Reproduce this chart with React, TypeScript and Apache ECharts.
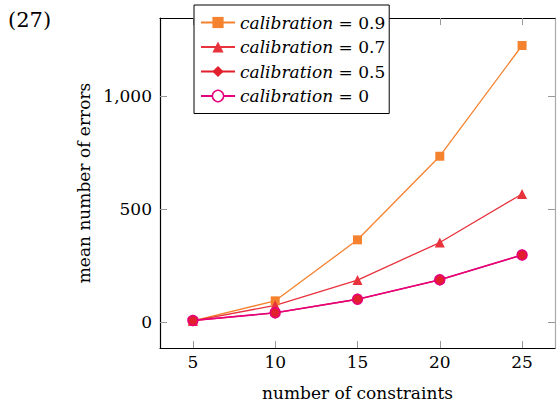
import React, { useEffect, useRef } from "react";
import * as echarts from "echarts";

const constraints = [5, 10, 15, 20, 25];
const calib09 = [6, 95, 365, 735, 1225];
const calib07 = [6, 75, 187, 353, 568];
const calib05 = [8, 42, 102, 188, 298];
const calib0 = [8, 42, 102, 188, 298];
const xTicks = [5, 10, 15, 20, 25];
const yTicks = [0, 500, 1000];
const labels = ["0.9", "0.7", "0.5", "0"];

const FONT = "DejaVu Serif";
const FS = 17;
const ORANGE = "#F5822F";
const RED = "#E8323C";
const RED2 = "#E21F2D";
const MAGENTA = "#E6007E";

const X_MIN = 3;
const X_MAX = 27;
const Y_MIN = -113.7;
const Y_MAX = 1346.7;

export default function App() {
  const ref = useRef<HTMLDivElement>(null);
  useEffect(() => {
    if (!ref.current) return;
    const chart = echarts.init(ref.current, null, { renderer: "svg" });
    const pts = (ys: number[]) => constraints.map((x, i) => [x, ys[i]]);
    const tickStyle = { show: true, inside: true, length: 7, lineStyle: { color: "#999", width: 1 } };
    const option: any = {
      animation: false,
      textStyle: { fontFamily: FONT },
      grid: { left: 160, top: 18, width: 395, height: 330, containLabel: false },
      legend: {
        orient: "vertical",
        left: 194,
        top: 5,
        padding: [9, 4, 9, 6],
        itemGap: 7.5,
        itemWidth: 34,
        itemHeight: 14,
        backgroundColor: "#fff",
        borderColor: "#000",
        borderWidth: 1,
        borderRadius: 0,
        z: 10,
        data: [
          { name: labels[0] },
          { name: labels[1] },
          { name: labels[2] },
          { name: labels[3], itemStyle: { color: "#fff", borderColor: MAGENTA, borderWidth: 1.5 } },
        ],
        formatter: (name: string) => `{i|calibration}{n| = ${name}}`,
        textStyle: {
          fontFamily: FONT,
          fontSize: FS,
          color: "#000",
          rich: {
            i: { fontFamily: FONT, fontSize: FS, fontStyle: "italic", color: "#000" },
            n: { fontFamily: FONT, fontSize: FS, color: "#000" },
          },
        },
      },
      xAxis: [
        {
          type: "value",
          position: "bottom",
          min: X_MIN,
          max: X_MAX,
          axisLine: { show: true, onZero: false, lineStyle: { color: "#000", width: 1.2 } },
          axisTick: { ...tickStyle, customValues: xTicks },
          axisLabel: { customValues: xTicks, fontFamily: FONT, fontSize: FS, color: "#000", margin: 5 },
          splitLine: { show: false },
          name: "number of constraints",
          nameLocation: "middle",
          nameGap: 36,
          nameTextStyle: { fontFamily: FONT, fontSize: FS, color: "#000" },
        },
        {
          type: "value",
          position: "top",
          min: X_MIN,
          max: X_MAX,
          axisLine: { show: true, onZero: false, lineStyle: { color: "#000", width: 1.2 } },
          axisTick: { ...tickStyle, customValues: xTicks },
          axisLabel: { show: false },
          splitLine: { show: false },
        },
      ],
      yAxis: [
        {
          type: "value",
          position: "left",
          min: Y_MIN,
          max: Y_MAX,
          axisLine: { show: true, onZero: false, lineStyle: { color: "#000", width: 1.2 } },
          axisTick: { ...tickStyle, customValues: yTicks },
          axisLabel: {
            customValues: yTicks,
            fontFamily: FONT,
            fontSize: FS,
            color: "#000",
            margin: 8,
            formatter: (v: number) => v.toLocaleString("en-US"),
          },
          splitLine: { show: false },
          name: "mean number of errors",
          nameLocation: "middle",
          nameGap: 62,
          nameRotate: 90,
          nameTextStyle: { fontFamily: FONT, fontSize: FS, color: "#000" },
        },
        {
          type: "value",
          position: "right",
          min: Y_MIN,
          max: Y_MAX,
          axisLine: { show: true, onZero: false, lineStyle: { color: "#aaa", width: 1.2 } },
          axisTick: { ...tickStyle, customValues: yTicks },
          axisLabel: { show: false },
          splitLine: { show: false },
        },
      ],
      series: [
        {
          name: labels[0],
          type: "line",
          data: pts(calib09),
          symbol: "rect",
          symbolSize: 9,
          lineStyle: { color: ORANGE, width: 1.3 },
          itemStyle: { color: ORANGE },
        },
        {
          name: labels[1],
          type: "line",
          data: pts(calib07),
          symbol: "triangle",
          symbolSize: 10,
          lineStyle: { color: RED, width: 1.3 },
          itemStyle: { color: RED },
        },
        {
          name: labels[2],
          type: "line",
          data: pts(calib05),
          symbol: "diamond",
          symbolSize: [9, 12],
          lineStyle: { color: RED2, width: 1.3 },
          itemStyle: { color: RED2 },
        },
        {
          name: labels[3],
          type: "line",
          data: pts(calib0),
          symbol: "circle",
          symbolSize: 10,
          lineStyle: { color: MAGENTA, width: 1.6 },
          itemStyle: { color: RED2, borderColor: MAGENTA, borderWidth: 1.5 },
        },
      ],
      graphic: [
        {
          type: "text",
          left: 8,
          top: 9,
          style: { text: "(27)", fontFamily: FONT, fontSize: 21, fill: "#000" },
        },
      ],
    };
    chart.setOption(option);
    return () => chart.dispose();
  }, []);
  return <div ref={ref} style={{ width: 557, height: 406, position: "absolute", left: 0, top: 0 }} />;
}
